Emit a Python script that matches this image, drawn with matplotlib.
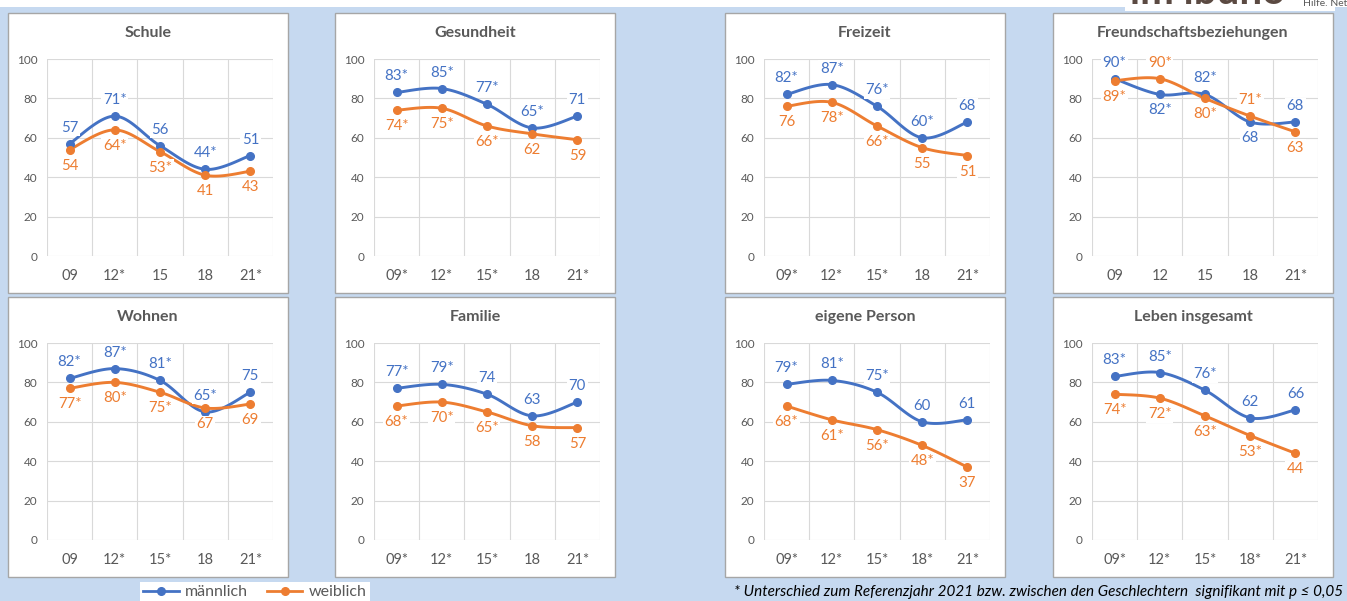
import numpy as np
import matplotlib
matplotlib.use("Agg")
import matplotlib.pyplot as plt
from matplotlib.patches import Rectangle
from matplotlib.lines import Line2D

plt.rcParams['font.family'] = ['Lato', 'DejaVu Sans']

# data
titles = ['Schule', 'Gesundheit', 'Freizeit', 'Freundschaftsbeziehungen',
          'Wohnen', 'Familie', 'eigene Person', 'Leben insgesamt']

xlabels = [
    ['09', '12*', '15', '18', '21*'],
    ['09*', '12*', '15*', '18', '21*'],
    ['09*', '12*', '15*', '18', '21*'],
    ['09', '12', '15', '18', '21*'],
    ['09', '12*', '15*', '18', '21*'],
    ['09*', '12*', '15*', '18', '21*'],
    ['09*', '12*', '15*', '18*', '21*'],
    ['09*', '12*', '15*', '18*', '21*'],
]

maennlich = [
    [57, 71, 56, 44, 51],
    [83, 85, 77, 65, 71],
    [82, 87, 76, 60, 68],
    [90, 82, 82, 68, 68],
    [82, 87, 81, 65, 75],
    [77, 79, 74, 63, 70],
    [79, 81, 75, 60, 61],
    [83, 85, 76, 62, 66],
]
maennlich_lbl = [
    ['57', '71*', '56', '44*', '51'],
    ['83*', '85*', '77*', '65*', '71'],
    ['82*', '87*', '76*', '60*', '68'],
    ['90*', '82*', '82*', '68', '68'],
    ['82*', '87*', '81*', '65*', '75'],
    ['77*', '79*', '74', '63', '70'],
    ['79*', '81*', '75*', '60', '61'],
    ['83*', '85*', '76*', '62', '66'],
]

weiblich = [
    [54, 64, 53, 41, 43],
    [74, 75, 66, 62, 59],
    [76, 78, 66, 55, 51],
    [89, 90, 80, 71, 63],
    [77, 80, 75, 67, 69],
    [68, 70, 65, 58, 57],
    [68, 61, 56, 48, 37],
    [74, 72, 63, 53, 44],
]
weiblich_lbl = [
    ['54', '64*', '53*', '41', '43'],
    ['74*', '75*', '66*', '62', '59'],
    ['76', '78*', '66*', '55', '51'],
    ['89*', '90*', '80*', '71*', '63'],
    ['77*', '80*', '75*', '67', '69'],
    ['68*', '70*', '65*', '58', '57'],
    ['68*', '61*', '56*', '48*', '37'],
    ['74*', '72*', '63*', '53*', '44'],
]

BLUE = '#4472C4'
ORANGE = '#ED7D31'
GREY = '#595959'
GRID = '#D9D9D9'
BG = '#C6D9F0'

W, H = 1347, 601


def smooth(y, n=30):
    # Excel-style smoothed line (bezier through the points)
    pts = np.column_stack([np.arange(len(y)), y]).astype(float)
    p = np.vstack([pts[0], pts, pts[-1]])
    t = np.linspace(0, 1, n)[:, None]
    segs = []
    for i in range(len(pts) - 1):
        p0, p1, p2, p3 = p[i], p[i + 1], p[i + 2], p[i + 3]
        c1 = p1 + (p2 - p0) / 6
        c2 = p2 - (p3 - p1) / 6
        segs.append((1 - t) ** 3 * p1 + 3 * (1 - t) ** 2 * t * c1
                    + 3 * (1 - t) * t ** 2 * c2 + t ** 3 * p2)
    return np.vstack(segs)


fig = plt.figure(figsize=(W / 100, H / 100), dpi=100, facecolor=BG)

# white strip at the top and the cut-off logo
fig.add_artist(Rectangle((0, 1 - 7 / H), 1, 7 / H, transform=fig.transFigure,
                         facecolor='white', edgecolor='none'))
fig.add_artist(Rectangle((1125 / W, 1 - 11 / H), 210 / W, 11 / H,
                         transform=fig.transFigure, facecolor='white', edgecolor='none'))
fig.text(1130 / W, 1 - 4 / H, 'im ibuno', fontsize=29, fontweight='bold',
         color='#5B4A42', ha='left', va='baseline')
fig.text(1303 / W, 1 - 6 / H, 'Hilfe. Netz', fontsize=7.5, color=GREY,
         ha='left', va='baseline')

col_left = [8, 335, 725, 1053]
row_top = [13, 297]
pw, ph = 280, 280

for k in range(8):
    L = col_left[k % 4]
    T = row_top[k // 4]

    fig.add_artist(Rectangle((L / W, 1 - (T + ph) / H), pw / W, ph / H,
                             transform=fig.transFigure, facecolor='white',
                             edgecolor='#A6A6A6', linewidth=1.0, zorder=0))
    fig.text((L + pw / 2) / W, 1 - (T + 20) / H, titles[k], fontsize=11.5,
             fontweight='bold', color=GREY, ha='center', va='center')

    ax = fig.add_axes([(L + 39) / W, 1 - (T + 243) / H, 226 / W, 197 / H])
    ax.set_facecolor('none')
    ax.set_xlim(-0.5, 4.5)
    ax.set_ylim(0, 100)
    ax.set_yticks(range(0, 101, 20))
    ax.set_xticks(range(5))
    ax.set_xticklabels(xlabels[k])
    ax.set_xticks(np.arange(-0.5, 5, 1), minor=True)
    ax.tick_params(axis='both', which='both', length=0)
    ax.tick_params(axis='y', labelsize=8.5, labelcolor=GREY, pad=7)
    ax.tick_params(axis='x', labelsize=10.5, labelcolor=GREY, pad=9)
    ax.grid(axis='y', which='major', color=GRID, linewidth=0.8)
    ax.grid(axis='x', which='minor', color=GRID, linewidth=0.8)
    for s in ax.spines.values():
        s.set_visible(False)
    ax.set_axisbelow(True)

    m = maennlich[k]
    w = weiblich[k]
    for vals, col in ((m, BLUE), (w, ORANGE)):
        c = smooth(vals)
        ax.plot(c[:, 0], c[:, 1], color=col, linewidth=2.1, zorder=3)
        ax.plot(range(5), vals, 'o', color=col, markersize=5.5, zorder=4)

    for i in range(5):
        m_up = m[i] >= w[i] - 2
        for val, txt, col, up in ((m[i], maennlich_lbl[k][i], BLUE, m_up),
                                  (w[i], weiblich_lbl[k][i], ORANGE, not m_up)):
            ax.annotate(txt, (i, val), xytext=(0, 6.5 if up else -6.5),
                        textcoords='offset points', ha='center',
                        va='bottom' if up else 'top', fontsize=10.8, color=col,
                        zorder=5,
                        bbox=dict(boxstyle='square,pad=0.1', fc='white', ec='none'))

# legend and footnote
handles = [Line2D([], [], color=BLUE, marker='o', markersize=5.5, linewidth=2),
           Line2D([], [], color=ORANGE, marker='o', markersize=5.5, linewidth=2)]
fig.legend(handles, ['männlich', 'weiblich'], loc='center',
           bbox_to_anchor=(255 / W, 1 - 592 / H), ncol=2, frameon=True,
           fancybox=False, edgecolor='none', facecolor='white', framealpha=1,
           fontsize=11.5, handlelength=2.2, handletextpad=0.4, columnspacing=1.2,
           borderpad=0.2, labelcolor=GREY)

fig.text(1343 / W, 1 - 592 / H,
         '* Unterschied zum Referenzjahr 2021 bzw. zwischen den Geschlechtern  signifikant mit p ≤ 0,05',
         fontsize=11, fontstyle='italic', color='black', ha='right', va='center')

fig.savefig('out.png', dpi=100, facecolor=BG)
